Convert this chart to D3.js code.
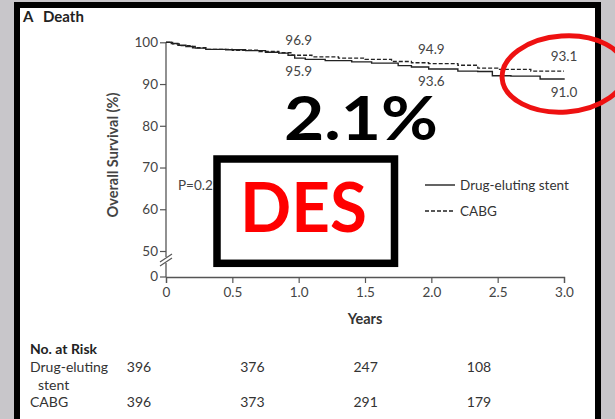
<!DOCTYPE html>
<html>
<head>
<meta charset="utf-8">
<script src="https://cdn.jsdelivr.net/npm/d3@7"></script>
<style>
  html, body { margin: 0; padding: 0; background: #c8c6ca; }
  svg { display: block; }
  text { font-family: Lato, "Open Sans", sans-serif; fill: #333; }
</style>
</head>
<body>
<svg id="chart" width="615" height="419"></svg>
<script>
// Kaplan–Meier survival, drug-eluting stent vs CABG
const desTimes  = [0, 0.04, 0.09, 0.15, 0.22, 0.30, 0.45, 0.60, 0.75, 0.85, 0.92, 0.97, 1.05, 1.20, 1.40, 1.55, 1.75, 1.85, 1.98, 2.20, 2.35, 2.46, 2.60, 2.82, 3.0];
const desSurv   = [100, 99.7, 99.3, 99.0, 98.6, 98.3, 98.2, 98.0, 97.6, 97.4, 96.9, 96.2, 95.9, 95.6, 95.3, 95.0, 94.4, 94.1, 93.6, 93.1, 93.0, 92.0, 91.9, 91.2, 91.0];
const cabgTimes = [0, 0.05, 0.10, 0.20, 0.30, 0.50, 0.70, 0.85, 0.95, 1.10, 1.30, 1.50, 1.70, 1.85, 1.98, 2.20, 2.35, 2.50, 2.75, 3.0];
const cabgSurv  = [100, 99.6, 99.2, 98.7, 98.3, 98.1, 97.8, 97.5, 96.9, 96.5, 96.2, 95.9, 95.4, 95.1, 94.9, 94.5, 93.8, 93.5, 93.1, 93.1];

// Survival read-outs at 1, 2 and 3 years
const markTimes = [1, 2, 3];
const desMarks  = [95.9, 93.6, 91.0];
const cabgMarks = [96.9, 94.9, 93.1];

const xTicks = [0, 0.5, 1.0, 1.5, 2.0, 2.5, 3.0];
const yTicks = [50, 60, 70, 80, 90, 100];

// Number at risk
const riskGroups = ["Drug-eluting stent", "CABG"];
const riskDes  = [396, 376, 247, 108];
const riskCabg = [396, 373, 291, 179];

const svg = d3.select("#chart");

// panel frame
svg.append("rect").attr("x", 14).attr("y", 2).attr("width", 587).attr("height", 430).attr("fill", "#000");
svg.append("rect").attr("x", 20).attr("y", 8).attr("width", 575).attr("height", 430).attr("fill", "#fff");

svg.append("text").attr("x", 23).attr("y", 22).attr("font-size", 15).attr("font-weight", 700)
  .style("fill", "#222").text("A");
svg.append("text").attr("x", 43).attr("y", 22).attr("font-size", 15).attr("font-weight", 700)
  .style("fill", "#222").text("Death");

const x = d3.scaleLinear().domain([0, 3]).range([166, 564]);
const y = d3.scaleLinear().domain([50, 100]).range([251, 42.3]);
const yZero = 277;
const axisColor = "#555";
const tickFont = 13.5;

// x axis
const gx = svg.append("g").attr("transform", `translate(0,${yZero})`)
  .call(d3.axisBottom(x).tickValues(xTicks).tickSize(6).tickPadding(4)
    .tickFormat(d => d === 0 ? "0" : d3.format(".1f")(d)));
gx.select(".domain").attr("stroke", axisColor).attr("stroke-width", 1.3);
gx.selectAll(".tick line").attr("stroke", axisColor).attr("stroke-width", 1.2);
gx.selectAll(".tick text").attr("font-size", tickFont).attr("font-family", "Lato, sans-serif").style("fill", "#444");

// y axis, upper section 50–100
const gy = svg.append("g").attr("transform", "translate(166,0)")
  .call(d3.axisLeft(y).tickValues(yTicks).tickSize(6).tickPadding(2));
gy.select(".domain").remove();
gy.selectAll(".tick line").attr("stroke", axisColor).attr("stroke-width", 1.2);
gy.selectAll(".tick text").attr("font-size", tickFont).attr("font-family", "Lato, sans-serif").style("fill", "#444");

// axis line with break between 50 and 0
svg.append("line").attr("x1", 166).attr("x2", 166).attr("y1", y(100)).attr("y2", 257)
  .attr("stroke", axisColor).attr("stroke-width", 1.3);
svg.append("line").attr("x1", 166).attr("x2", 166).attr("y1", 263).attr("y2", yZero)
  .attr("stroke", axisColor).attr("stroke-width", 1.3);
[0, 4].forEach(o => {
  svg.append("line").attr("x1", 160).attr("y1", 262 + o).attr("x2", 172).attr("y2", 254 + o)
    .attr("stroke", axisColor).attr("stroke-width", 1.2);
});
svg.append("line").attr("x1", 160).attr("x2", 166).attr("y1", yZero).attr("y2", yZero)
  .attr("stroke", axisColor).attr("stroke-width", 1.2);
svg.append("text").attr("x", 158).attr("y", yZero).attr("dy", "0.32em").attr("text-anchor", "end")
  .attr("font-size", tickFont).style("fill", "#444").text("0");

svg.append("text").attr("transform", "translate(113,155) rotate(-90)").attr("text-anchor", "middle")
  .attr("dy", "0.35em").attr("font-size", 14.5).attr("font-weight", 700).style("fill", "#444")
  .text("Overall Survival (%)");
svg.append("text").attr("x", 365).attr("y", 319).attr("dy", "0.35em").attr("text-anchor", "middle")
  .attr("font-size", 14.5).attr("font-weight", 700).style("fill", "#333").text("Years");

// curves
const line = d3.line().x(d => x(d[0])).y(d => y(d[1])).curve(d3.curveStepAfter);
svg.append("path").datum(d3.zip(desTimes, desSurv)).attr("d", line)
  .attr("fill", "none").attr("stroke", "#222").attr("stroke-width", 1.4);
svg.append("path").datum(d3.zip(cabgTimes, cabgSurv)).attr("d", line)
  .attr("fill", "none").attr("stroke", "#222").attr("stroke-width", 1.3).attr("stroke-dasharray", "4,2");

// survival read-outs
markTimes.forEach((t, i) => {
  svg.append("text").attr("x", x(t)).attr("y", y(cabgMarks[i]) - 10).attr("text-anchor", "middle")
    .attr("font-size", 13.5).style("fill", "#444").text(d3.format(".1f")(cabgMarks[i]));
  svg.append("text").attr("x", x(t)).attr("y", y(desMarks[i]) + 17).attr("text-anchor", "middle")
    .attr("font-size", 13.5).style("fill", "#444").text(d3.format(".1f")(desMarks[i]));
});

svg.append("text").attr("x", 178).attr("y", 185).attr("dy", "0.35em").attr("font-size", 13.5)
  .style("fill", "#444").text("P=0.25");

// legend
const legend = [{name: riskGroups[0], dash: null}, {name: riskGroups[1], dash: "4,2"}];
legend.forEach((d, i) => {
  const ly = 185 + i * 26;
  svg.append("line").attr("x1", 425).attr("x2", 455).attr("y1", ly).attr("y2", ly)
    .attr("stroke", "#222").attr("stroke-width", 1.4).attr("stroke-dasharray", d.dash);
  svg.append("text").attr("x", 460).attr("y", ly).attr("dy", "0.35em").attr("font-size", 13.5)
    .style("fill", "#333").text(d.name);
});

// number at risk table
const col = d3.scaleLinear().domain([0, 3]).range([139, 479]);
svg.append("text").attr("x", 30).attr("y", 349).attr("dy", "0.35em").attr("font-size", 14)
  .attr("font-weight", 700).style("fill", "#222").text("No. at Risk");
svg.append("text").attr("x", 30).attr("y", 367).attr("dy", "0.35em").attr("font-size", 14)
  .style("fill", "#333").text("Drug-eluting");
svg.append("text").attr("x", 38).attr("y", 385).attr("dy", "0.35em").attr("font-size", 14)
  .style("fill", "#333").text("stent");
svg.append("text").attr("x", 30).attr("y", 402).attr("dy", "0.35em").attr("font-size", 14)
  .style("fill", "#333").text(riskGroups[1]);
[riskDes, riskCabg].forEach((row, r) => {
  row.forEach((v, i) => {
    svg.append("text").attr("x", col(i)).attr("y", r === 0 ? 367 : 402).attr("dy", "0.35em")
      .attr("text-anchor", "middle").attr("font-size", 14).style("fill", "#333").text(v);
  });
});

// annotations
svg.append("text").attr("x", 284).attr("y", 140).attr("font-family", "DejaVu Sans, sans-serif")
  .attr("font-size", 62).attr("font-weight", 700).style("fill", "#000")
  .attr("textLength", 154).attr("lengthAdjust", "spacingAndGlyphs").text("2.1%");

svg.append("rect").attr("x", 217).attr("y", 159).attr("width", 177.5).attr("height", 104.3)
  .attr("fill", "#fff").attr("stroke", "#000").attr("stroke-width", 7.5);
svg.append("text").attr("x", 240).attr("y", 232).attr("font-family", "DejaVu Sans, sans-serif")
  .attr("font-size", 68).attr("font-weight", 700).style("fill", "#ff0000")
  .attr("textLength", 127).attr("lengthAdjust", "spacingAndGlyphs").text("DES");

svg.append("ellipse").attr("cx", 564).attr("cy", 74).attr("rx", 62).attr("ry", 38)
  .attr("transform", "rotate(-4,564,74)")
  .attr("fill", "none").attr("stroke", "#ee1111").attr("stroke-width", 5);
</script>
</body>
</html>
